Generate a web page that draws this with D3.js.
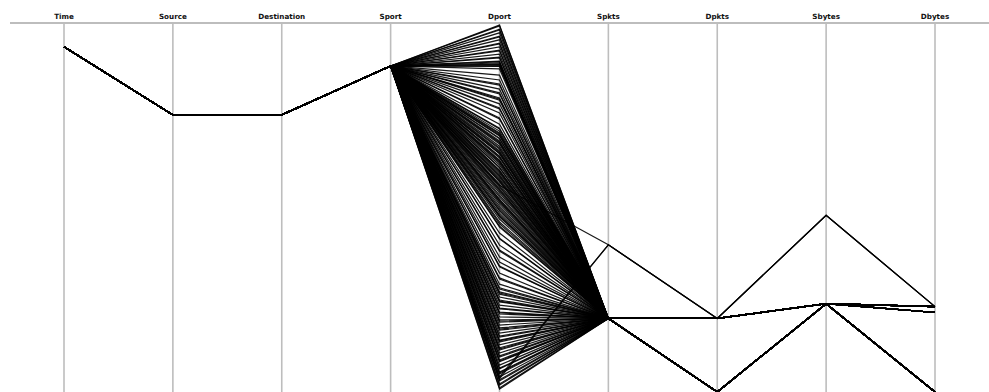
<!DOCTYPE html>
<html>
<head>
<meta charset="utf-8">
<script src="https://cdn.jsdelivr.net/npm/d3@7/dist/d3.min.js"></script>
<style>
  html, body { margin: 0; padding: 0; background: #fff; }
  svg { display: block; }
</style>
</head>
<body>
<svg id="chart" width="989" height="392"></svg>
<script>
// Axis names, left to right
const dimensions = ["Time", "Source", "Destination", "Sport", "Dport", "Spkts", "Dpkts", "Sbytes", "Dbytes"];

// Value extent for each axis
const domainTime = [0, 100];
const domainSource = [0, 100];
const domainDestination = [0, 100];
const domainSport = [0, 65535];
const domainDport = [0, 1000];
const domainSpkts = [0, 10];
const domainDpkts = [0, 10];
const domainSbytes = [0, 500];
const domainDbytes = [0, 500];

// Values shared by every flow
const timeValue = 93.8;
const sourceValue = 75.3;
const destinationValue = 75.3;
const sportValue = 58060;

// Flow profiles: [Spkts, Dpkts, Sbytes, Dbytes]
const profileA1 = [2, 2, 120, 116];
const profileA2 = [2, 2, 120, 108];
const profileB = [2, 0, 120, 0];
const profileC = [4, 2, 240, 116];

// Destination ports of the flows in each profile
const dportA1 = [997, 995, 986, 984, 976, 967, 965, 957, 948, 946, 938, 929, 927, 918, 910, 908,
  899, 897, 894, 891, 889, 886, 885, 878, 861, 848, 837, 834, 823, 813, 810, 799, 796, 793,
  783, 772, 769, 758, 745, 742, 728, 717, 715];
const dportA2 = [709, 704, 701, 698, 696, 690, 688, 682, 679, 677, 674, 668, 663, 660, 655, 652,
  649, 647, 641, 639, 636, 630, 628, 625, 622, 617, 611, 609, 603, 601, 598, 595, 590, 587,
  584, 579, 576, 573, 571, 565, 560, 557, 552, 549, 546, 541, 535, 530, 524, 522, 519, 516,
  511, 505, 500, 495, 492, 486, 481, 478, 476, 470, 462, 457, 451, 448];
const dportB = [432, 418, 416, 399, 386, 383, 367, 353, 342, 340, 323, 310, 307, 293, 283, 280,
  272, 269, 266, 258, 250, 247, 245, 236, 228, 226, 217, 215, 212, 204, 196, 193, 190, 182,
  174, 171, 168, 160, 152, 149, 141, 139, 136, 128, 120, 117, 114, 106, 98, 95, 87, 84, 82,
  73, 65, 63, 54, 52, 49, 41, 33, 30, 22, 19, 11, 8];
const dportC = [562, 41, 36];

const domains = {
  Time: domainTime, Source: domainSource, Destination: domainDestination,
  Sport: domainSport, Dport: domainDport, Spkts: domainSpkts,
  Dpkts: domainDpkts, Sbytes: domainSbytes, Dbytes: domainDbytes
};

// Build one record per flow
function buildFlows(ports, profile) {
  return ports.map(p => ({
    Time: timeValue, Source: sourceValue, Destination: destinationValue,
    Sport: sportValue, Dport: p,
    Spkts: profile[0], Dpkts: profile[1], Sbytes: profile[2], Dbytes: profile[3]
  }));
}
const flows = [].concat(
  buildFlows(dportA1, profileA1),
  buildFlows(dportA2, profileA2),
  buildFlows(dportB, profileB),
  buildFlows(dportC, profileC)
);

const svg = d3.select("#chart");
const chartWidth = 989, chartHeight = 392;
const plotTop = 24, plotBottom = 392;

const x = d3.scalePoint().domain(dimensions).range([64, 935]);
const y = {};
dimensions.forEach(d => {
  y[d] = d3.scaleLinear().domain(domains[d]).range([plotBottom, plotTop]);
});

// Header rule
svg.append("line")
  .attr("x1", 10).attr("x2", chartWidth)
  .attr("y1", 23).attr("y2", 23)
  .attr("stroke", "#bdbdbd").attr("stroke-width", 2);

// Axis lines and names
const axes = svg.append("g").selectAll("g").data(dimensions).join("g")
  .attr("transform", d => `translate(${x(d)},0)`);
axes.append("line")
  .attr("y1", 23).attr("y2", chartHeight)
  .attr("stroke", "#bdbdbd").attr("stroke-width", 1.6);
axes.append("text")
  .attr("y", 18.5)
  .attr("text-anchor", "middle")
  .attr("font-family", "DejaVu Sans, sans-serif")
  .attr("font-weight", "bold")
  .attr("font-size", 7.2)
  .attr("fill", "#111")
  .text(d => d);

// Flow polylines
const line = d3.line();
svg.append("g")
  .attr("fill", "none")
  .attr("stroke", "#000")
  .attr("stroke-width", 1.2)
  .attr("stroke-opacity", 0.9)
  .selectAll("path").data(flows).join("path")
  .attr("d", r => line(dimensions.map(d => [x(d), y[d](r[d])])));
</script>
</body>
</html>
